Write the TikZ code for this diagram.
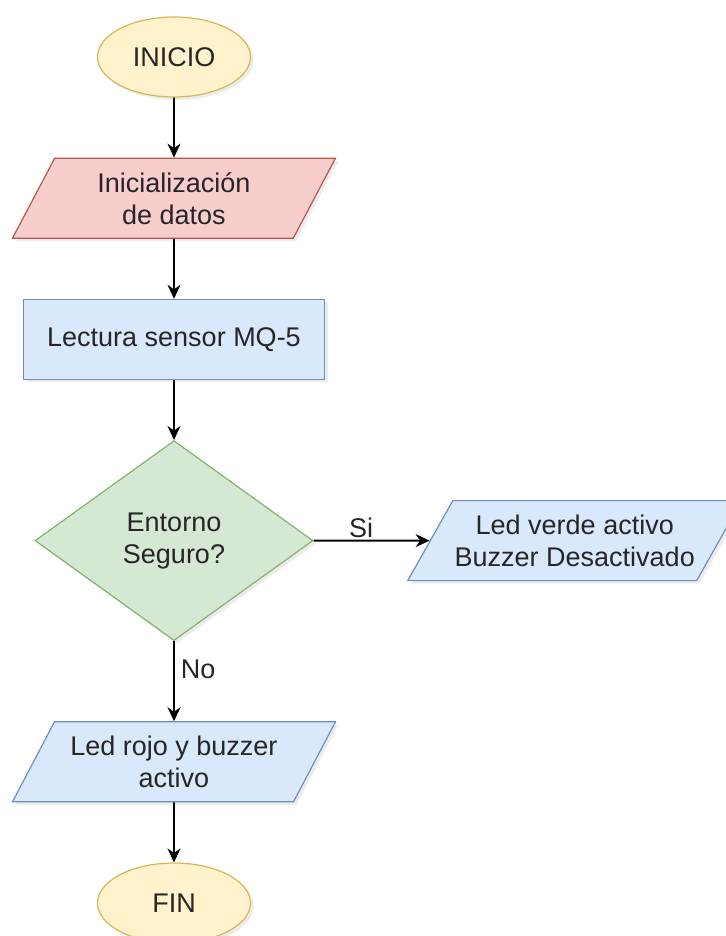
\documentclass[tikz,border=0pt]{standalone}
\usepackage{fontspec}
\setmainfont{Liberation Sans}
\usetikzlibrary{positioning,shapes.geometric,arrows.meta,shadows}

\definecolor{termFill}{HTML}{FFF2CC}
\definecolor{termDraw}{HTML}{D6B656}
\definecolor{iniFill}{HTML}{F8CECC}
\definecolor{iniDraw}{HTML}{B85450}
\definecolor{procFill}{HTML}{DAE8FC}
\definecolor{procDraw}{HTML}{6C8EBF}
\definecolor{decFill}{HTML}{D5E8D4}
\definecolor{decDraw}{HTML}{82B366}

\tikzset{
	base/.style={draw, line width=0.6pt, align=center, text=black!85, inner sep=0pt,
		font=\fontsize{13.5pt}{16pt}\selectfont,
		drop shadow={opacity=0.15, shadow xshift=1.5pt, shadow yshift=-1.5pt}},
	terminal/.style={base, ellipse, draw=termDraw, fill=termFill, minimum width=76.5pt, minimum height=40pt},
	datos/.style={base, trapezium, trapezium left angle=51, trapezium right angle=129,
		trapezium stretches body, minimum width=161.5pt, minimum height=40pt},
	proceso/.style={base, rectangle, draw=procDraw, fill=procFill, minimum width=150.5pt, minimum height=40pt},
	decision/.style={base, diamond, draw=decDraw, fill=decFill, minimum width=139pt, minimum height=100pt},
	flecha/.style={-{Stealth[length=7pt,width=6.5pt]}, line width=0.9pt},
	etiqueta/.style={font=\fontsize{13.5pt}{16pt}\selectfont, text=black!85},
}

\begin{document}
\begin{tikzpicture}[node distance=30pt]
	\useasboundingbox (0,0) rectangle (363pt,-468pt);

	\node [terminal] (inicio) at (87pt,-28.5pt) {INICIO};
	\node [datos, draw=iniDraw, fill=iniFill, below=of inicio] (init) {Inicialización\\de datos};
	\node [proceso, below=of init] (lectura) {Lectura sensor MQ-5};
	\node [decision, below=of lectura] (entorno) {Entorno\\Seguro?};
	\node [datos, draw=procDraw, fill=procFill, trapezium left angle=49, trapezium right angle=131,
		minimum width=167pt, right=58pt of entorno] (verde) {Led verde activo\\Buzzer Desactivado};
	\node [datos, draw=procDraw, fill=procFill, below=40pt of entorno] (rojo) {Led rojo y buzzer\\activo};
	\node [terminal, below=of rojo] (fin) {FIN};

	\draw [flecha] (inicio) -- (init);
	\draw [flecha] (init) -- (lectura);
	\draw [flecha] (lectura) -- (entorno);
	\draw [flecha] (entorno) -- node [etiqueta, pos=0.41, above, inner sep=1pt] {Si} (verde);
	\draw [flecha] (entorno) -- node [etiqueta, pos=0.35, right, inner sep=3pt] {No} (rojo);
	\draw [flecha] (rojo) -- (fin);

\end{tikzpicture}
\end{document}
